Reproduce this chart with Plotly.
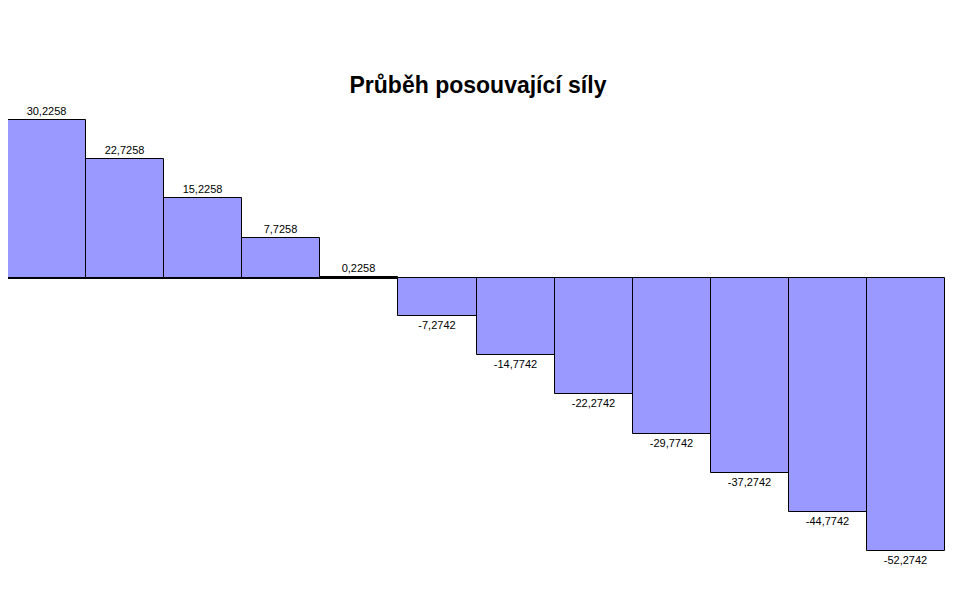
import plotly.graph_objs as go

# posouvajici sila v jednotlivych usecich
useky = list(range(1, 13))
hodnoty = [30.2258, 22.7258, 15.2258, 7.7258, 0.2258, -7.2742, -14.7742,
           -22.2742, -29.7742, -37.2742, -44.7742, -52.2742]
popisky = [("%.4f" % v).replace(".", ",") for v in hodnoty]

barra = go.Bar(x=useky, y=hodnoty, text=popisky, textposition='outside',
               textfont={'family': 'Liberation Sans, Arial', 'size': 11, 'color': 'black'},
               marker={'color': '#9999FF', 'line': {'color': 'black', 'width': 1}},
               cliponaxis=False)

config = go.Layout(
    title={'text': '<b>Průběh posouvající síly</b>', 'x': 470 / 977, 'xanchor': 'center',
           'y': 1 - 77 / 600, 'yanchor': 'middle',
           'font': {'family': 'Liberation Sans, Arial', 'size': 23, 'color': 'black'}},
    width=977, height=600,
    margin={'l': 0, 'r': 40, 't': 62, 'b': 18},
    plot_bgcolor='white', paper_bgcolor='white',
    bargap=0, showlegend=False,
    xaxis={'visible': False, 'range': [0.5, 12.5]},
    yaxis={'range': [-59.7, 39.8], 'showgrid': False, 'showticklabels': False,
           'zeroline': True, 'zerolinecolor': 'black', 'zerolinewidth': 1},
)

fig = go.Figure(data=[barra], layout=config)
fig.write_html("out.html")
